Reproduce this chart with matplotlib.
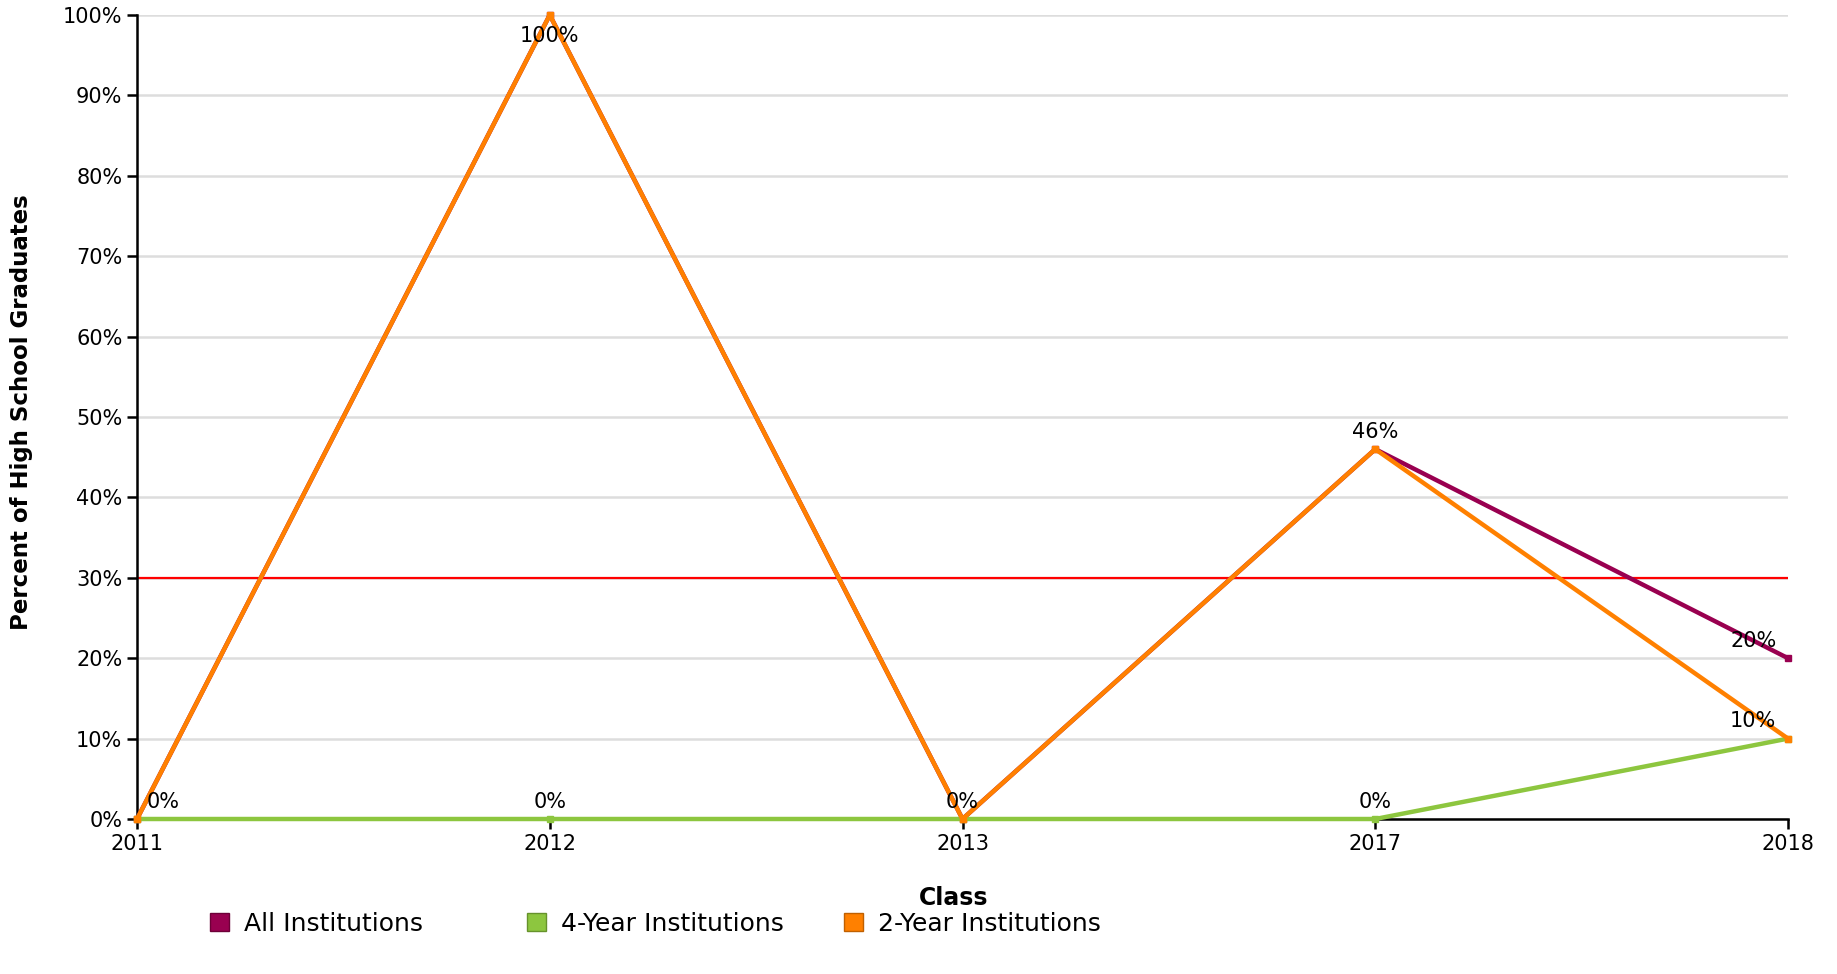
import matplotlib
matplotlib.use("Agg")
import matplotlib.pyplot as plt
from matplotlib.patches import Patch
from matplotlib.ticker import FuncFormatter

classes = ["2011", "2012", "2013", "2017", "2018"]
all_inst = [0, 100, 0, 46, 20]
four_year = [0, 0, 0, 0, 10]
two_year = [0, 100, 0, 46, 10]
target = 30

series_names = ["All Institutions", "4-Year Institutions", "2-Year Institutions"]
colors = ["#990050", "#8dc63f", "#ff8000"]
edge_colors = ["#6d0038", "#66922c", "#c06000"]

# labels shown: (index, value)
labels = [(0, 0), (1, 100), (1, 0), (2, 0), (3, 46), (3, 0), (4, 20), (4, 10)]

W, H = 1837, 974
fig = plt.figure(figsize=(W / 100, H / 100), dpi=100)
ax = fig.add_axes([137 / W, 1 - 819 / H, (1788 - 137) / W, (819 - 15) / H])

x = list(range(len(classes)))
for yv, c in zip([all_inst, four_year, two_year], colors):
    ax.plot(x, yv, color=c, lw=3.2, marker="s", ms=5, zorder=3, clip_on=False)
ax.axhline(target, color="#ff0000", lw=1.6, zorder=2)

for i, v in labels:
    if i == 1 and v == 100:
        ax.annotate(f"{v}%", (i, v), xytext=(0, -15), textcoords="offset points",
                    ha="center", va="center", fontsize=15, zorder=5)
    else:
        dx = 0
        if i == 0:
            dx = 19
        elif i == len(classes) - 1:
            dx = -25
        ax.annotate(f"{v}%", (i, v), xytext=(dx, 12.5), textcoords="offset points",
                    ha="center", va="center", fontsize=15, zorder=5)

ax.set_xlim(0, len(classes) - 1)
ax.set_ylim(0, 100)
ax.set_xticks(x)
ax.set_xticklabels(classes)
ax.set_yticks(range(0, 101, 10))
ax.yaxis.set_major_formatter(FuncFormatter(lambda v, p: f"{int(v)}%"))
ax.grid(axis="y", color="#dddddd", lw=1.8, zorder=0)
ax.set_axisbelow(True)
for s in ["top", "right"]:
    ax.spines[s].set_visible(False)
for s in ["left", "bottom"]:
    ax.spines[s].set_linewidth(1.8)
ax.tick_params(axis="both", labelsize=15, length=7, width=1.8)
ax.tick_params(axis="x", length=7, pad=4)

fig.text(954 / W, 1 - 898 / H, "Class", fontsize=17, fontweight="bold",
         ha="center", va="center")
fig.text(22 / W, 1 - 412 / H, "Percent of High School Graduates", fontsize=16.5,
         fontweight="bold", rotation=90, ha="center", va="center")

# legend entries at fixed spacing
xs = [210, 527, 844]
for name, c, ec, px in zip(series_names, colors, edge_colors, xs):
    fig.legend(handles=[Patch(facecolor=c, edgecolor=ec, label=name)],
               loc="center left", bbox_to_anchor=(px / W, 1 - 924 / H),
               frameon=False, fontsize=18, handlelength=0.75, handleheight=0.75,
               handletextpad=0.6, borderpad=0, borderaxespad=0)

fig.savefig("out.png", dpi=100)
